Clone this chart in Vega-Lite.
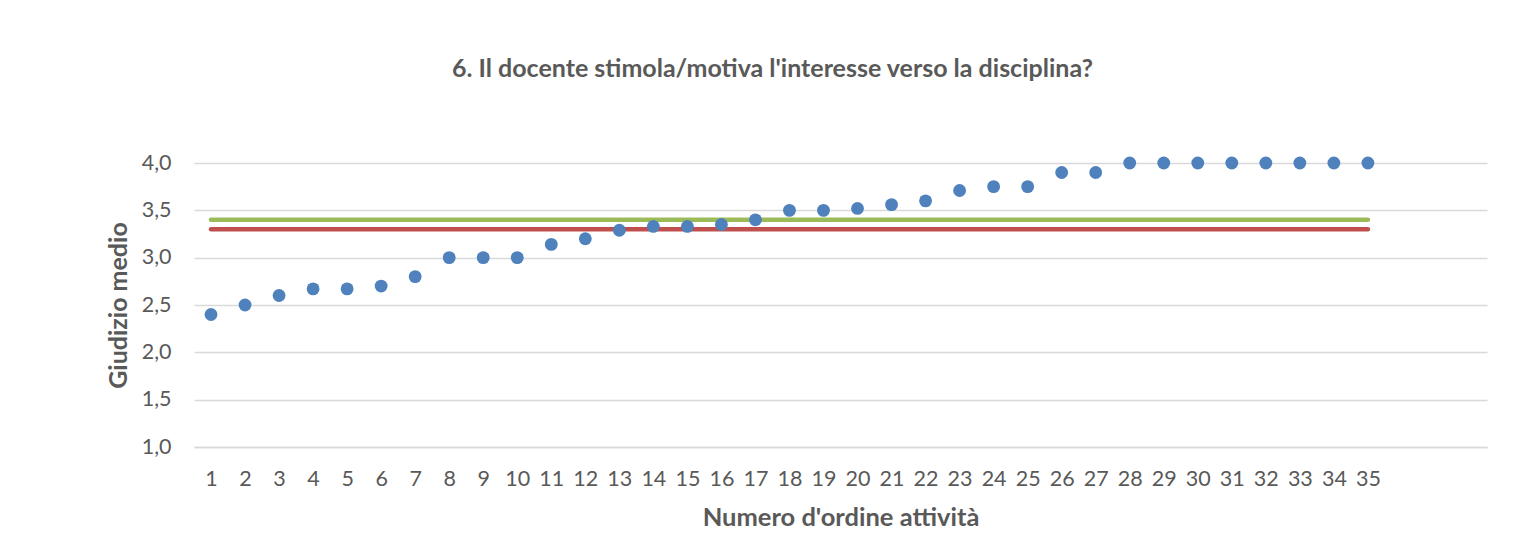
{
  "$schema": "https://vega.github.io/schema/vega-lite/v6.json",
  "width": 1293,
  "height": 284,
  "autosize": {"type": "none"},
  "padding": {"left": 194, "top": 163, "right": 39, "bottom": 94},
  "background": "white",
  "title": {
    "text": "6. Il docente stimola/motiva l'interesse verso la disciplina?",
    "font": "Lato",
    "fontSize": 25,
    "fontWeight": "bold",
    "color": "#595959",
    "anchor": "middle",
    "dx": -68,
    "offset": 70
  },
  "config": {
    "view": {"stroke": null},
    "axis": {"labelFont": "Lato", "titleFont": "Lato", "labelColor": "#595959", "titleColor": "#595959"}
  },
  "data": {
    "values": [
      {"n": 1, "giudizio": 2.40, "media_verde": 3.4, "media_rossa": 3.3},
      {"n": 2, "giudizio": 2.50, "media_verde": 3.4, "media_rossa": 3.3},
      {"n": 3, "giudizio": 2.60, "media_verde": 3.4, "media_rossa": 3.3},
      {"n": 4, "giudizio": 2.67, "media_verde": 3.4, "media_rossa": 3.3},
      {"n": 5, "giudizio": 2.67, "media_verde": 3.4, "media_rossa": 3.3},
      {"n": 6, "giudizio": 2.70, "media_verde": 3.4, "media_rossa": 3.3},
      {"n": 7, "giudizio": 2.80, "media_verde": 3.4, "media_rossa": 3.3},
      {"n": 8, "giudizio": 3.00, "media_verde": 3.4, "media_rossa": 3.3},
      {"n": 9, "giudizio": 3.00, "media_verde": 3.4, "media_rossa": 3.3},
      {"n": 10, "giudizio": 3.00, "media_verde": 3.4, "media_rossa": 3.3},
      {"n": 11, "giudizio": 3.14, "media_verde": 3.4, "media_rossa": 3.3},
      {"n": 12, "giudizio": 3.20, "media_verde": 3.4, "media_rossa": 3.3},
      {"n": 13, "giudizio": 3.29, "media_verde": 3.4, "media_rossa": 3.3},
      {"n": 14, "giudizio": 3.33, "media_verde": 3.4, "media_rossa": 3.3},
      {"n": 15, "giudizio": 3.33, "media_verde": 3.4, "media_rossa": 3.3},
      {"n": 16, "giudizio": 3.35, "media_verde": 3.4, "media_rossa": 3.3},
      {"n": 17, "giudizio": 3.40, "media_verde": 3.4, "media_rossa": 3.3},
      {"n": 18, "giudizio": 3.50, "media_verde": 3.4, "media_rossa": 3.3},
      {"n": 19, "giudizio": 3.50, "media_verde": 3.4, "media_rossa": 3.3},
      {"n": 20, "giudizio": 3.52, "media_verde": 3.4, "media_rossa": 3.3},
      {"n": 21, "giudizio": 3.56, "media_verde": 3.4, "media_rossa": 3.3},
      {"n": 22, "giudizio": 3.60, "media_verde": 3.4, "media_rossa": 3.3},
      {"n": 23, "giudizio": 3.71, "media_verde": 3.4, "media_rossa": 3.3},
      {"n": 24, "giudizio": 3.75, "media_verde": 3.4, "media_rossa": 3.3},
      {"n": 25, "giudizio": 3.75, "media_verde": 3.4, "media_rossa": 3.3},
      {"n": 26, "giudizio": 3.90, "media_verde": 3.4, "media_rossa": 3.3},
      {"n": 27, "giudizio": 3.90, "media_verde": 3.4, "media_rossa": 3.3},
      {"n": 28, "giudizio": 4.00, "media_verde": 3.4, "media_rossa": 3.3},
      {"n": 29, "giudizio": 4.00, "media_verde": 3.4, "media_rossa": 3.3},
      {"n": 30, "giudizio": 4.00, "media_verde": 3.4, "media_rossa": 3.3},
      {"n": 31, "giudizio": 4.00, "media_verde": 3.4, "media_rossa": 3.3},
      {"n": 32, "giudizio": 4.00, "media_verde": 3.4, "media_rossa": 3.3},
      {"n": 33, "giudizio": 4.00, "media_verde": 3.4, "media_rossa": 3.3},
      {"n": 34, "giudizio": 4.00, "media_verde": 3.4, "media_rossa": 3.3},
      {"n": 35, "giudizio": 4.00, "media_verde": 3.4, "media_rossa": 3.3}
    ]
  },
  "encoding": {
    "x": {
      "field": "n",
      "type": "quantitative",
      "scale": {"domain": [0.5, 38.5], "nice": false, "zero": false},
      "axis": {
        "title": "Numero d'ordine attività",
        "titleFontSize": 25.5,
        "titleFontWeight": "bold",
        "titlePadding": 16,
        "values": [1,2,3,4,5,6,7,8,9,10,11,12,13,14,15,16,17,18,19,20,21,22,23,24,25,26,27,28,29,30,31,32,33,34,35],
        "format": "d",
        "labelFontSize": 21.5,
        "labelPadding": 21,
        "labelOverlap": false,
        "ticks": false,
        "grid": false,
        "domainColor": "#d9d9d9",
        "domainWidth": 1.5
      }
    }
  },
  "layer": [
    {
      "mark": {"type": "line", "color": "#9BBB59", "strokeWidth": 4.5, "strokeCap": "round"},
      "encoding": {
        "y": {
          "field": "media_verde",
          "type": "quantitative",
          "scale": {"domain": [1, 4], "nice": false, "zero": false},
          "axis": {
            "title": "Giudizio medio",
            "titleFontSize": 25,
            "titleFontWeight": "bold",
            "titlePadding": 10,
            "values": [1, 1.5, 2, 2.5, 3, 3.5, 4],
            "labelExpr": "replace(format(datum.value, '.1f'), '.', ',')",
            "labelFontSize": 21.5,
            "labelPadding": 23,
            "labelOverlap": false,
            "ticks": false,
            "domain": false,
            "grid": true,
            "gridColor": "#d9d9d9",
            "gridWidth": 1.5
          }
        }
      }
    },
    {
      "mark": {"type": "line", "color": "#C0504D", "strokeWidth": 4.5, "strokeCap": "round"},
      "encoding": {"y": {"field": "media_rossa", "type": "quantitative"}}
    },
    {
      "mark": {"type": "circle", "color": "#4F81BD", "size": 165, "opacity": 1},
      "encoding": {"y": {"field": "giudizio", "type": "quantitative"}}
    }
  ]
}
